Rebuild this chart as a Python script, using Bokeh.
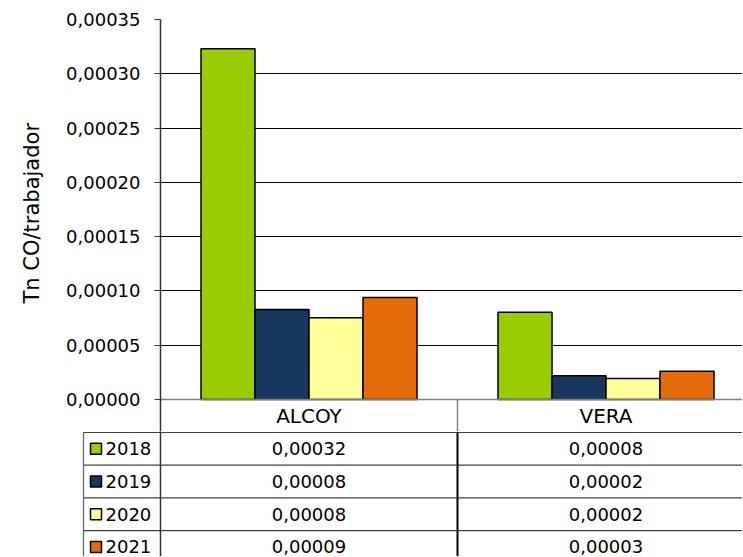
from bokeh.plotting import figure
from bokeh.models import Range1d, FixedTicker, CustomJSTickFormatter, Title
from bokeh.layouts import column
from bokeh.core.properties import value
from bokeh.embed import file_html
from bokeh.resources import INLINE

# ---------------- data ----------------
cities = ["ALCOY", "VERA"]
years = ["2018", "2019", "2020", "2021"]
v2018 = [0.000323, 0.0000804]
v2019 = [0.0000829, 0.0000218]
v2020 = [0.0000752, 0.0000193]
v2021 = [0.0000939, 0.0000261]
y_ticks = [0.0, 0.00005, 0.00010, 0.00015, 0.00020, 0.00025, 0.00030, 0.00035]
y_title = "Tn CO/trabajador"

series = [v2018, v2019, v2020, v2021]
colors = ["#99CC00", "#17375E", "#FFFF99", "#E46C0A"]

# ---------------- layout constants ----------------
FONT = "DejaVu Sans"
W = 742
H_TOTAL = 556
LEFT = 160          # space left of the plot area
CAT_PX = 297        # pixels per category
TOP = 19
PLOT_H = 380
HEAD_H = 32
ROW_H = 32.7
BAR_W = 54 / CAT_PX

x_end = (W - LEFT) / CAT_PX
y_max = y_ticks[-1]
u_per_px = y_max / PLOT_H
y_start = -HEAD_H * u_per_px
chart_h = TOP + PLOT_H + HEAD_H
table_h = H_TOTAL - chart_h

# ---------------- chart (with header row of the data table) ----------------
p = figure(width=W, height=chart_h, output_backend="svg", toolbar_location=None,
           x_range=Range1d(0, x_end), y_range=Range1d(y_start, y_max),
           min_border_left=LEFT, min_border_right=0, min_border_top=TOP, min_border_bottom=0,
           x_axis_location=None)
p.frame_align = False
p.outline_line_color = None

n_cat = len(cities)
n_ser = len(series)
for j, (s, col) in enumerate(zip(series, colors)):
    xs = [i + 0.5 + (j - (n_ser - 1) / 2) * BAR_W for i in range(n_cat)]
    p.vbar(x=xs, top=s, bottom=0, width=BAR_W, fill_color=col, line_color="black", line_width=1.5)

# baseline and header-row divider
p.segment(x0=[0], x1=[n_cat], y0=[0], y1=[0], line_color="#808080", line_width=1.5)
p.segment(x0=list(range(1, n_cat)), x1=list(range(1, n_cat)),
          y0=[y_start] * (n_cat - 1), y1=[0] * (n_cat - 1), line_color="#808080", line_width=1.5)
# category labels of the header row
p.text(x=[i + 0.5 for i in range(n_cat)], y=[y_start / 2] * n_cat, text=cities,
       text_align="center", text_baseline="middle",
       text_font=value(FONT), text_font_size="20px", text_color="black")

# y axis
yax = p.yaxis[0]
yax.ticker = FixedTicker(ticks=y_ticks)
yax.formatter = CustomJSTickFormatter(code="return tick.toFixed(5).replace('.', ',');")
yax.major_tick_out = 6
yax.major_tick_in = 0
yax.minor_tick_line_color = None
yax.major_tick_line_color = "#333333"
yax.axis_line_color = "#333333"
yax.axis_line_width = 1.5
yax.major_label_standoff = 14
yax.major_label_text_font = FONT
yax.major_label_text_font_size = "18px"
yax.major_label_text_color = "black"

# y title, placed along the plot area (above the table header row)
p.add_layout(Title(text=y_title, align="left", vertical_align="top", offset=128, standoff=36,
                   text_font=FONT, text_font_size="21px", text_font_style="normal",
                   text_color="black"), "left")

p.xgrid.visible = False
p.ygrid.ticker = FixedTicker(ticks=y_ticks[1:])
p.ygrid.grid_line_color = "black"
p.ygrid.grid_line_width = 1

# ---------------- data table rows ----------------
t = figure(width=W, height=table_h, output_backend="svg", toolbar_location=None,
           x_range=Range1d(-LEFT / CAT_PX, x_end),
           y_range=Range1d((table_h - 1) / ROW_H, -1 / ROW_H),
           min_border_left=0, min_border_right=0, min_border_top=0, min_border_bottom=0,
           x_axis_location=None, y_axis_location=None)
t.frame_align = False
t.outline_line_color = None
t.grid.visible = False

legend_left = -77 / CAT_PX
n_rows = len(years)
bottom = table_h / ROW_H + 1
# horizontal row lines
t.segment(x0=[legend_left] * n_rows, x1=[n_cat] * n_rows,
          y0=list(range(n_rows)), y1=list(range(n_rows)), line_color="#404040", line_width=1.2)
# vertical lines
t.segment(x0=[legend_left], x1=[legend_left], y0=[0], y1=[bottom], line_color="#606060", line_width=1.2)
t.segment(x0=[0], x1=[0], y0=[-1], y1=[bottom], line_color="#333333", line_width=1.5)
t.segment(x0=list(range(1, n_cat)), x1=list(range(1, n_cat)),
          y0=[0] * (n_cat - 1), y1=[bottom] * (n_cat - 1), line_color="black", line_width=2)

# legend keys and year labels
rows_y = [j + 0.5 for j in range(n_rows)]
t.scatter(x=[-64.5 / CAT_PX] * n_rows, y=rows_y, marker="square", size=11,
          fill_color=colors, line_color="black", line_width=1.5)
t.text(x=[-55 / CAT_PX] * n_rows, y=rows_y, text=years, text_align="left", text_baseline="middle",
       text_font=value(FONT), text_font_size="18px", text_color="black")

# values
vx, vy, vt = [], [], []
for j, s in enumerate(series):
    for i, v in enumerate(s):
        vx.append(i + 0.5)
        vy.append(j + 0.5)
        vt.append(f"{v:.5f}".replace(".", ","))
t.text(x=vx, y=vy, text=vt, text_align="center", text_baseline="middle",
       text_font=value(FONT), text_font_size="18px", text_color="black")

layout = column(p, t, spacing=0)
open("out.html", "w").write(file_html(layout, INLINE))
